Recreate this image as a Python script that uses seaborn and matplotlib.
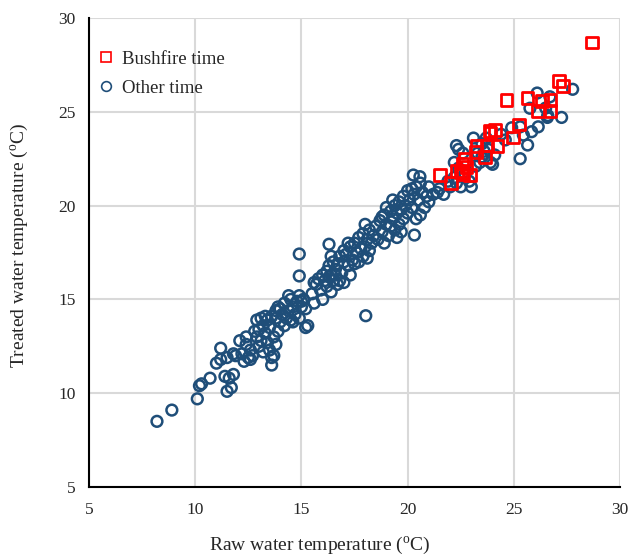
import matplotlib
matplotlib.use("Agg")
import matplotlib.pyplot as plt
import seaborn as sns
import pandas as pd
from matplotlib.lines import Line2D

# ---- data ----
bush_raw = [28.67, 27.14, 27.33, 24.65, 25.64, 26.33, 26.73, 26.14, 26.73, 25.24,
            24.96, 23.85, 24.11, 24.24, 23.75, 23.25, 23.22, 23.63, 22.70, 22.59,
            22.78, 22.34, 22.62, 22.94, 21.53, 22.03, 23.90, 22.50]
bush_treated = [28.70, 26.64, 26.38, 25.63, 25.74, 25.58, 25.63, 25.04, 25.04, 24.33,
                23.62, 23.98, 24.03, 23.19, 23.21, 23.18, 22.87, 22.60, 22.47, 22.25,
                22.07, 21.86, 21.68, 21.63, 21.63, 21.19, 23.90, 21.80]

other_raw = [
    8.2, 8.9, 10.1, 10.2, 10.3, 10.7,
    11.0, 11.2, 11.2, 11.4, 11.5, 11.6, 11.7, 11.8, 11.5, 11.8, 11.9, 12.1, 12.3, 12.4,
    12.5, 12.2, 12.4, 12.6, 12.6, 12.7,
    12.8, 12.9, 13.0, 13.0, 13.1, 13.2, 13.2, 13.3, 13.4, 13.4, 13.5, 13.5, 13.6, 13.6,
    13.7, 13.7, 13.8, 13.8, 13.9, 12.9, 13.1, 13.3,
    14.0, 14.0, 14.1, 14.2, 14.2, 14.3, 14.4, 14.5, 14.5, 14.6, 14.7, 14.8, 14.9, 14.9,
    15.0, 15.1, 15.2, 14.6, 14.9, 14.9, 15.2, 15.3, 15.0, 14.4, 13.9, 13.6, 13.8,
    15.5, 15.6, 15.7, 15.8, 15.9, 16.0, 16.0, 16.1, 16.2, 16.2, 16.3, 16.4, 16.4, 16.5,
    16.5, 16.6, 16.7, 16.7, 16.8, 16.9, 17.0, 17.0, 16.3, 15.6, 16.3, 16.6, 16.8, 16.4,
    17.1, 17.2, 17.3, 17.3, 17.4, 17.5, 17.5, 17.6, 17.7, 17.7, 17.8, 17.9, 17.9, 18.0,
    18.0, 18.1, 18.1, 18.2, 18.2, 18.3, 18.03, 17.2, 17.0, 18.4,
    18.5, 18.6, 18.7, 18.8, 18.9, 18.9, 19.0, 19.1, 19.2, 19.2, 19.3, 19.4, 19.4, 19.5,
    19.6, 19.6, 19.7, 19.8, 19.8, 19.9, 20.0, 20.0, 19.5, 19.0, 18.8, 19.3, 19.7,
    20.1, 20.27, 20.2, 20.58, 20.3, 20.32, 20.4, 20.4, 20.5, 20.6, 20.7, 20.8, 20.9,
    21.0, 21.0, 20.6, 20.2,
    21.2, 21.4, 21.5, 21.7, 21.9, 22.0, 22.2, 22.3, 22.4, 22.3, 22.4, 22.6, 22.5, 22.7,
    22.9, 23.0, 22.2,
    23.1, 23.3, 23.4, 23.5, 23.6, 23.7, 23.8, 23.9, 24.0, 23.5, 24.1, 23.2,
    24.4, 24.6, 24.9, 25.45, 25.3, 25.3, 25.84, 25.65, 25.76, 26.15, 26.58, 26.5, 26.7,
    26.6, 27.25, 27.77, 26.1,
]
other_treated = [
    8.5, 9.1, 9.7, 10.4, 10.5, 10.8,
    11.6, 11.8, 12.4, 10.9, 10.1, 10.8, 10.3, 11.0, 11.9, 12.1, 12.0, 12.8, 11.7, 13.0,
    11.9, 12.1, 12.6, 12.3, 11.8, 12.0,
    13.3, 13.0, 12.5, 13.4, 12.8, 13.6, 12.2, 13.2, 12.7, 13.9, 13.5, 12.3, 11.9, 11.5,
    12.0, 13.0, 14.0, 12.6, 13.3, 13.9, 14.0, 14.1,
    14.5, 13.8, 14.2, 13.6, 14.8, 14.0, 14.4, 15.0, 13.9, 14.6, 14.2, 14.9, 15.2, 14.0,
    14.6, 15.0, 14.5, 13.8, 16.25, 17.42, 13.5, 13.6, 14.9, 15.2, 14.6, 14.1, 14.4,
    15.3, 14.8, 15.8, 16.1, 15.5, 16.3, 15.0, 16.0, 16.5, 15.7, 16.8, 16.3, 15.4, 17.0,
    16.0, 16.6, 15.8, 16.9, 17.3, 16.4, 17.0, 15.9, 17.94, 15.9, 16.2, 16.3, 16.0, 17.3,
    17.4, 16.8, 17.8, 16.3, 17.1, 18.0, 16.9, 17.5, 18.3, 17.0, 17.7, 18.5, 17.3, 17.8,
    19.0, 18.2, 17.2, 18.7, 17.6, 18.0, 14.13, 18.0, 17.6, 18.4,
    18.9, 18.2, 19.2, 18.6, 19.5, 18.0, 19.0, 18.4, 19.7, 18.9, 19.3, 20.0, 18.7, 19.6,
    20.2, 19.0, 19.8, 20.5, 19.3, 20.0, 19.6, 20.8, 18.3, 19.9, 19.4, 20.3, 18.6,
    20.3, 21.63, 19.9, 21.54, 20.6, 18.43, 21.0, 19.3, 20.3, 21.2, 20.7, 19.9, 20.5,
    21.0, 20.2, 19.5, 20.9,
    20.6, 20.7, 20.9, 20.6, 21.3, 21.0, 21.5, 21.2, 22.0, 23.2, 23.0, 22.8, 21.0, 21.7,
    21.3, 21.0, 22.3,
    23.6, 22.8, 22.3, 22.6, 22.9, 23.6, 23.0, 22.3, 22.2, 23.3, 22.7, 22.1,
    23.8, 23.5, 24.15, 23.76, 24.2, 22.5, 23.94, 23.23, 25.19, 24.2, 24.7, 25.2, 25.8,
    24.8, 24.7, 26.2, 26.0,
]

x_ticks = [5, 10, 15, 20, 25, 30]
y_ticks = [5, 10, 15, 20, 25, 30]

df_b = pd.DataFrame({"raw": bush_raw, "treated": bush_treated})
df_o = pd.DataFrame({"raw": other_raw, "treated": other_treated})

sns.set_style("white")
plt.rcParams["font.family"] = ["Liberation Serif", "DejaVu Serif"]
plt.rcParams["mathtext.fontset"] = "custom"
plt.rcParams["mathtext.rm"] = "Liberation Serif"

blue = "#1f4e79"
red = "#ff0000"

fig = plt.figure(figsize=(6.32, 5.55), dpi=100)
ax = fig.add_axes([89 / 632, 1 - 487 / 555, (620 - 89) / 632, (487 - 18) / 555])

sns.scatterplot(data=df_o, x="raw", y="treated", ax=ax, marker="o", s=60,
                facecolor="none", edgecolor=blue, linewidth=1.8, zorder=3)
sns.scatterplot(data=df_b, x="raw", y="treated", ax=ax, marker="s", s=70,
                facecolor="none", edgecolor=red, linewidth=2.0, zorder=4)

ax.set_xlim(5, 30)
ax.set_ylim(5, 30)
ax.set_xticks(x_ticks)
ax.set_yticks(y_ticks)
ax.grid(True, color="#d9d9d9", linewidth=1.5, zorder=0)
ax.set_axisbelow(True)
for s in ["top", "right"]:
    ax.spines[s].set_visible(False)
for s in ["left", "bottom"]:
    ax.spines[s].set_color("black")
    ax.spines[s].set_linewidth(1.5)
    ax.spines[s].set_zorder(5)
ax.tick_params(axis="both", direction="inout", length=7, width=1.5, color="black",
               labelsize=12.5)
ax.tick_params(axis="x", pad=7)
ax.tick_params(axis="y", pad=6)

ax.set_xlabel(r"Raw water temperature ($\mathregular{^{o}}$C)", fontsize=14)
ax.set_ylabel(r"Treated water temperature ($\mathregular{^{o}}$C)", fontsize=14)
ax.xaxis.set_label_coords((320 - 89) / 531, -(535 - 487) / 469)
ax.yaxis.set_label_coords(-(89 - 30) / 531, (487 - 245) / 469)

handles = [
    Line2D([], [], marker="s", linestyle="none", markerfacecolor="none",
           markeredgecolor=red, markersize=7, markeredgewidth=1.2),
    Line2D([], [], marker="o", linestyle="none", markerfacecolor="none",
           markeredgecolor=blue, markersize=7, markeredgewidth=1.2),
]
ax.legend(handles, ["Bushfire time", "Other time"], loc="upper left",
          bbox_to_anchor=(0.0, 0.95), frameon=False, fontsize=13.5,
          handlelength=0.8, handletextpad=0.46, labelspacing=0.62, borderaxespad=0.1)

fig.savefig("out.png", dpi=100)
